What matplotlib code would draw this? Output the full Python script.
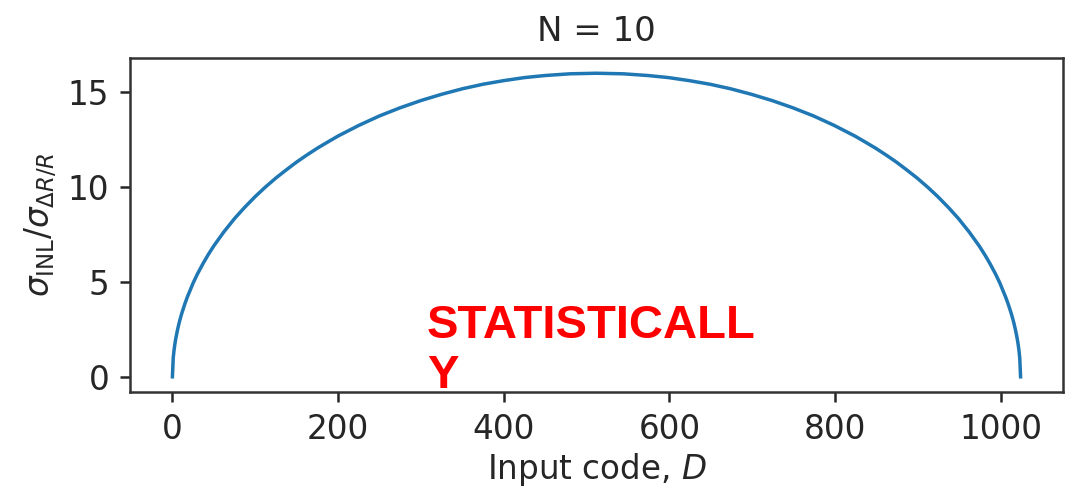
import matplotlib
matplotlib.use("Agg")
import matplotlib.pyplot as plt

# Values
codes = [0, 1, 2, 3, 4, 6, 8, 10, 12, 15, 18, 25, 30, 37, 43, 50, 62, 75, 87, 100,
         112, 125, 137, 150, 162, 175, 187, 200, 225, 250, 275, 300, 325, 350, 375,
         400, 425, 450, 480, 512,
         544, 574, 599, 624, 649, 674, 699, 724, 749, 774, 799, 824, 837, 849, 862,
         874, 887, 899, 912, 924, 937, 949, 962, 974, 981, 987, 994, 999, 1006, 1009,
         1012, 1014, 1016, 1018, 1020, 1021, 1022, 1023, 1024]
ratio = [0.0, 1.0, 1.41, 1.73, 2.0, 2.44, 2.82, 3.15, 3.44, 3.84, 4.20, 4.94, 5.40,
         5.97, 6.42, 6.90, 7.63, 8.34, 8.92, 9.50, 9.99, 10.48, 10.89, 11.32, 11.68,
         12.05, 12.36, 12.69, 13.25, 13.75, 14.18, 14.56, 14.89, 15.18, 15.42, 15.61,
         15.77, 15.88, 15.97, 16.0,
         15.97, 15.88, 15.77, 15.61, 15.42, 15.18, 14.89, 14.56, 14.18, 13.75, 13.25,
         12.69, 12.36, 12.05, 11.68, 11.32, 10.89, 10.48, 9.99, 9.50, 8.92, 8.34,
         7.63, 6.90, 6.42, 5.97, 5.40, 4.94, 4.20, 3.84, 3.44, 3.15, 2.82, 2.44, 2.0,
         1.73, 1.41, 1.0, 0.0]
title_text = "N = 10"
xlabel_text = "Input code, $D$"
ylabel_text = r"$\sigma_{\mathrm{INL}}/\sigma_{\Delta R/R}$"
overlay_text = "STATISTICALL\nY"

fs = 24.5
fig = plt.figure(figsize=(10.86, 4.92), dpi=100)
ax = fig.add_axes([0.1197, 0.2033, 0.9788 - 0.1197, 0.882 - 0.2033])
ax.plot(codes, ratio, color="#1f77b4", linewidth=2.5, solid_joinstyle="round")
ax.set_title(title_text, fontsize=fs, pad=12, color="#262626")
ax.set_xlabel(xlabel_text, fontsize=fs * 0.96, color="#262626", labelpad=4)
ax.set_ylabel(ylabel_text, fontsize=fs * 0.96, color="#262626", labelpad=6)
ax.set_xticks([0, 200, 400, 600, 800, 1000])
ax.set_yticks([0, 5, 10, 15])
ax.tick_params(labelsize=fs * 0.96, length=7, width=1.8, colors="#262626", pad=8)
for s in ax.spines.values():
    s.set_linewidth(1.8)
    s.set_color("#333333")

fig.text(427 / 1086, 1 - 388 / 492, overlay_text, color="red", fontsize=34,
         fontweight="bold", family="Liberation Sans", ha="left", va="baseline",
         linespacing=1.17)

fig.savefig("out.png", dpi=100)
